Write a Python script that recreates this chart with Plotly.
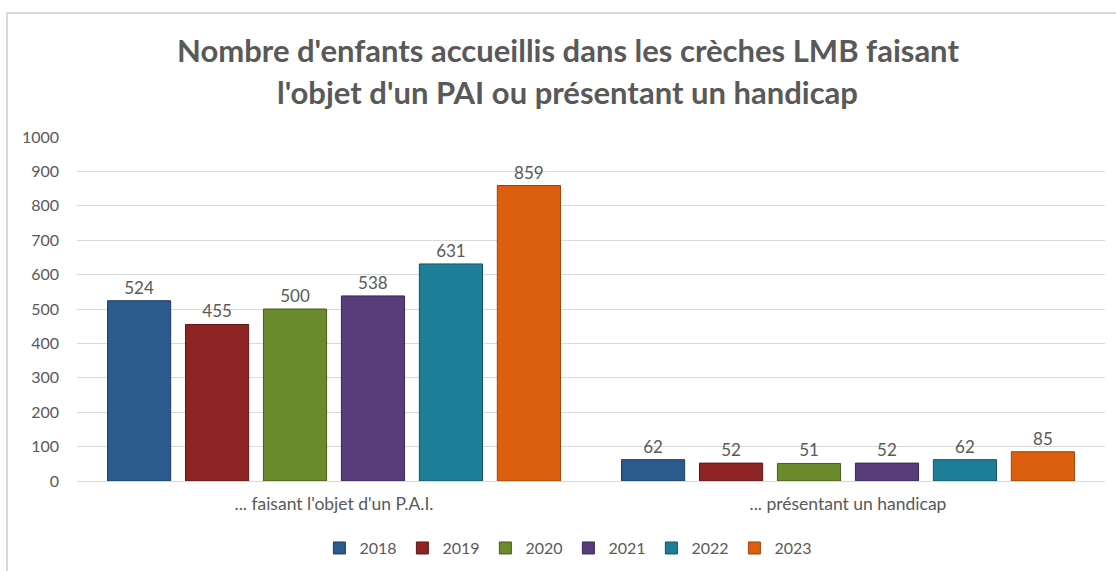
import plotly.graph_objects as go

categories = ["... faisant l'objet d'un P.A.I.", "... présentant un handicap"]
years = ["2018", "2019", "2020", "2021", "2022", "2023"]
values = {
    "2018": [524, 62],
    "2019": [455, 52],
    "2020": [500, 51],
    "2021": [538, 52],
    "2022": [631, 62],
    "2023": [859, 85],
}
title_lines = ["Nombre d'enfants accueillis dans les crèches LMB faisant",
               "l'objet d'un PAI ou présentant un handicap"]
colors = ["#2b5a8c", "#8e2524", "#6b8a2b", "#583d7a", "#1f7e97", "#db5f0e"]
edges = ["#1c3d60", "#5e1716", "#475c1c", "#3a2852", "#145466", "#9a420a"]
y_ticks = list(range(0, 1001, 100))

FONT = "Lato"
GREY = "#595959"

fig = go.Figure()
for yr, c, e in zip(years, colors, edges):
    fig.add_trace(go.Bar(
        name=yr, x=categories, y=values[yr],
        marker=dict(color=c, line=dict(color=e, width=1)),
        text=values[yr], textposition="outside",
        textfont=dict(family=FONT, size=17, color=GREY),
        cliponaxis=False,
    ))

for txt, yy in zip(title_lines, [1.2529, 1.1308]):
    fig.add_annotation(
        text=txt, xref="paper", yref="paper", x=0.4776, y=yy,
        xanchor="center", yanchor="middle", showarrow=False,
        font=dict(family=FONT, size=31, color=GREY, weight="bold"),
    )

fig.update_layout(
    width=1116, height=571,
    margin=dict(l=77, r=11, t=137, b=90, autoexpand=False),
    paper_bgcolor="white", plot_bgcolor="white",
    barmode="group", bargap=0.09, bargroupgap=0.19,
    font=dict(family=FONT, color=GREY),
    legend=dict(
        orientation="h", x=0.478, xanchor="center", y=-0.195, yanchor="middle",
        font=dict(family=FONT, size=16, color=GREY),
        itemwidth=30, traceorder="normal", entrywidth=38,
    ),
    yaxis=dict(
        range=[0, 1000], tickvals=y_ticks, showgrid=True, gridcolor="#d9d9d9",
        gridwidth=1, zeroline=False, showline=False, ticks="", automargin=False,
        tickfont=dict(family=FONT, size=16, color=GREY), ticklabelstandoff=17,
    ),
    xaxis=dict(
        showline=True, linecolor="#d9d9d9", linewidth=1, ticks="", automargin=False,
        tickfont=dict(family=FONT, size=17.5, color=GREY), ticklabelstandoff=7,
    ),
    shapes=[dict(
        type="rect", xref="paper", yref="paper",
        x0=-0.0681, x1=1.05, y0=-0.5, y1=1.3605,
        line=dict(color="#d9d9d9", width=2), fillcolor="rgba(0,0,0,0)", layer="below",
    )],
)

fig.write_html("out.html", config={"displayModeBar": False},
               post_script="document.body.style.margin='0';")
